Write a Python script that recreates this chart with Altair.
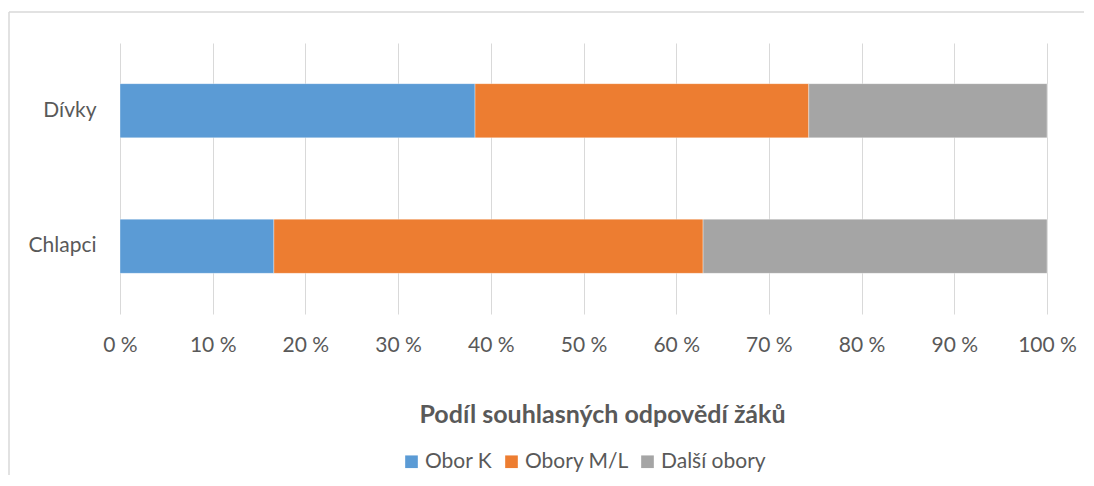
import altair as alt
import pandas as pd

groups = ["Dívky", "Chlapci"]
series = ["Obor K", "Obory M/L", "Další obory"]
values_divky = [38.3, 36.0, 25.7]
values_chlapci = [16.6, 46.3, 37.1]
colors = ["#5B9BD5", "#ED7D31", "#A5A5A5"]
x_ticks = [0, 0.1, 0.2, 0.3, 0.4, 0.5, 0.6, 0.7, 0.8, 0.9, 1.0]

rows = []
for g, vals in zip(groups, [values_divky, values_chlapci]):
    for i, (s, v) in enumerate(zip(series, vals)):
        rows.append({"skupina": g, "obor": s, "podil": v, "poradi": i})
df = pd.DataFrame(rows)

FONT = "Lato"
GREY = "#595959"

bars = alt.Chart(df).mark_bar(stroke="white", strokeOpacity=0.35, strokeWidth=1).encode(
    x=alt.X("podil:Q", stack="normalize",
            scale=alt.Scale(domain=[0, 1], nice=False),
            axis=alt.Axis(values=x_ticks, labelExpr="round(datum.value*100) + ' %'",
                          title="Podíl souhlasných odpovědí žáků",
                          grid=True, gridColor="#d9d9d9", gridWidth=1,
                          domain=False, ticks=False, labelPadding=20,
                          labelFlush=False, labelOverlap=False,
                          labelFontSize=21, labelColor=GREY, labelFont=FONT,
                          titleFont=FONT, titleFontSize=25, titleFontWeight="bold",
                          titleColor=GREY, titlePadding=47, titleX=482,
                          titleAlign="center")),
    y=alt.Y("skupina:N", sort=groups,
            scale=alt.Scale(paddingInner=0.6, paddingOuter=0.3),
            axis=alt.Axis(title=None, domain=False, ticks=False, grid=False,
                          labelPadding=24, labelFontSize=21, labelColor=GREY,
                          labelFont=FONT, minExtent=110, maxExtent=110)),
    color=alt.Color("obor:N", sort=series,
                    scale=alt.Scale(domain=series, range=colors),
                    legend=alt.Legend(title=None, orient="none", direction="horizontal",
                                      legendX=281, legendY=408,
                                      symbolType="square", symbolSize=160,
                                      symbolStrokeWidth=0, labelFontSize=21,
                                      labelColor=GREY, labelFont=FONT,
                                      columnPadding=8, labelOffset=3)),
    order=alt.Order("poradi:Q"),
)

border_df = pd.DataFrame({"k": [0]})
left_border = alt.Chart(border_df).mark_rule(color="#d9d9d9", strokeWidth=1.5).encode(
    x=alt.value(-111), y=alt.value(-31), y2=alt.value(432))
top_border = alt.Chart(border_df).mark_rule(color="#d9d9d9", strokeWidth=1.5).encode(
    x=alt.value(-111), x2=alt.value(964), y=alt.value(-31))

chart = alt.layer(left_border, top_border, bars).properties(
    width=927, height=271,
    padding={"left": 0, "top": 3, "right": 0, "bottom": 0},
).configure_view(stroke=None)

chart.save("out.html", embed_options={"renderer": "svg", "actions": False})
